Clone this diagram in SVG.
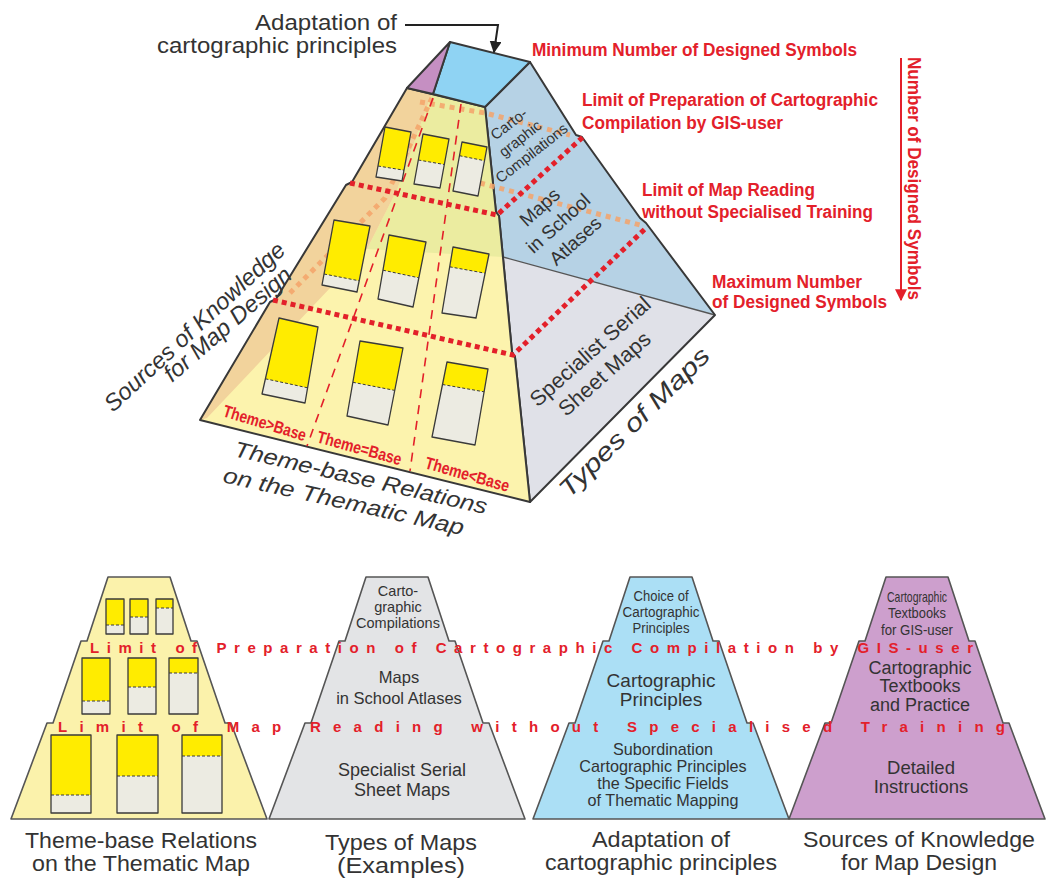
<svg xmlns="http://www.w3.org/2000/svg" width="1056" height="879" viewBox="0 0 1056 879">
<style>
.edge{stroke:#383838;stroke-width:2;stroke-linejoin:round}
.tb{stroke:#555;stroke-width:1.6;stroke-linejoin:round}
.sy{fill:#ffec00}
.sg{fill:#ecebe2}
.so{fill:none;stroke:#3a3a3a;stroke-width:1.3;stroke-linejoin:round}
.sd{stroke:#3a3a3a;stroke-width:1;stroke-dasharray:3 2}
.rdot{stroke:#e3202a;stroke-width:5;stroke-dasharray:5 4;fill:none}
.odot{stroke:#f5a36a;stroke-width:5;stroke-dasharray:5 5;fill:none;opacity:0.85}
.rdash{stroke:#e3202a;stroke-width:1.6;stroke-dasharray:9 7}
.t{font-family:"Liberation Sans",Arial,sans-serif;fill:#333}
.ti{font-family:"Liberation Sans",Arial,sans-serif;fill:#333;font-style:italic}
.r{font-family:"Liberation Sans",Arial,sans-serif;font-weight:bold;fill:#e3202a}
.ln{stroke:#222;stroke-width:2;fill:none}
</style>
<defs>
<marker id="ah" viewBox="0 0 10 10" refX="9" refY="5" markerWidth="12" markerHeight="12" markerUnits="userSpaceOnUse" orient="auto">
<path d="M0,0 L10,5 L0,10 Z" fill="#222"/>
</marker>
<marker id="ahr" viewBox="0 0 10 10" refX="9" refY="5" markerWidth="12" markerHeight="12" markerUnits="userSpaceOnUse" orient="auto">
<path d="M0,0 L10,5 L0,10 Z" fill="#e3202a"/>
</marker>
</defs>

<!-- ============ TOP 3D PYRAMID ============ -->
<g id="pyramid-3d">
  <g id="face-right">
    <polygon points="485,107 530,62 576,135 582,137 640,218 646,223 715,315 530,502 515,357 512,352 499,216 496,212" fill="#b6d2e5"/>
    <polygon points="503,257 715,315 530,502 515,357 512,352" fill="#e0e1e8"/>
    <line x1="503" y1="257" x2="715" y2="315" stroke="#555" stroke-width="1.3"/>
    <polygon points="485,107 530,62 576,135 582,137 640,218 646,223 715,315 530,502 515,357 512,352 499,216 496,212" fill="none" class="edge"/>
  </g>
  <g id="face-front">
    <polygon points="407,88 485,107 496,212 499,216 512,352 515,357 530,502 200,420 270,302 276,299 346,185 352,182" fill="#fcf3ad"/>
    <polygon points="432,93 485,107 496,212 499,216 503,257 367,249 397,190" fill="#ebeca0"/>
    <polygon points="407,88 432,93 397,190 367,249 207,418 200,420 270,302 276,299 346,185 352,182" fill="#f2d39c"/>
    <polygon points="407,88 485,107 496,212 499,216 512,352 515,357 530,502 200,420 270,302 276,299 346,185 352,182" fill="none" class="edge"/>
  </g>
  <g id="face-top">
    <polygon points="450,42 530,62 485,107 433,94" fill="#8fd3f3" class="edge"/>
    <polygon points="450,42 433,94 407,88" fill="#c58fc2" class="edge"/>
  </g>

  <g id="hidden-lines">
    <polyline class="odot" points="420,102 485,113 570,135"/>
    <polyline class="odot" points="432,98 385,198 290,293"/>
    <line class="odot" x1="480" y1="183" x2="640" y2="225"/>
  </g>

  <g id="column-dividers">
    <line class="rdash" x1="433" y1="98" x2="307" y2="446"/>
    <line class="rdash" x1="461" y1="104" x2="410" y2="471"/>
  </g>

  <g id="symbols-3d">
    <polygon class="sg" points="385,127 411,132 402,181 376,177"/>
    <polygon class="sy" points="385,127 411,132 404,170.2 378,166"/>
    <line class="sd" x1="378" y1="166" x2="404" y2="170.2"/>
    <polygon class="so" points="385,127 411,132 402,181 376,177"/>

    <polygon class="sg" points="423,134 449,139 440,188 414,184"/>
    <polygon class="sy" points="423,134 449,139 444.3,164.5 418.3,160"/>
    <line class="sd" x1="418.3" y1="160" x2="444.3" y2="164.5"/>
    <polygon class="so" points="423,134 449,139 440,188 414,184"/>

    <polygon class="sg" points="462,142 487,147 478,196 453,191"/>
    <polygon class="sy" points="462,142 487,147 484.5,160.7 459.5,155.7"/>
    <line class="sd" x1="459.5" y1="155.7" x2="484.5" y2="160.7"/>
    <polygon class="so" points="462,142 487,147 478,196 453,191"/>

    <polygon class="sg" points="334,220 370,226 357,292 322,285"/>
    <polygon class="sy" points="334,220 370,226 359.2,280.8 324,274"/>
    <line class="sd" x1="324" y1="274" x2="359.2" y2="280.8"/>
    <polygon class="so" points="334,220 370,226 357,292 322,285"/>

    <polygon class="sg" points="389,235 426,242 413,307 378,299"/>
    <polygon class="sy" points="389,235 426,242 418.9,277.8 383,270.2"/>
    <line class="sd" x1="383" y1="270.2" x2="418.9" y2="277.8"/>
    <polygon class="so" points="389,235 426,242 413,307 378,299"/>

    <polygon class="sg" points="453,247 489,254 476,318 442,313"/>
    <polygon class="sy" points="453,247 489,254 485.1,273.2 449.7,266.8"/>
    <line class="sd" x1="449.7" y1="266.8" x2="485.1" y2="273.2"/>
    <polygon class="so" points="453,247 489,254 476,318 442,313"/>

    <polygon class="sg" points="279,318 318,327 305,403 262,394"/>
    <polygon class="sy" points="279,318 318,327 307.6,387.8 265.4,378.8"/>
    <line class="sd" x1="265.4" y1="378.8" x2="307.6" y2="387.8"/>
    <polygon class="so" points="279,318 318,327 305,403 262,394"/>

    <polygon class="sg" points="360,341 403,348 388,425 347,416"/>
    <polygon class="sy" points="360,341 403,348 394.8,390.4 352.9,382.3"/>
    <line class="sd" x1="352.9" y1="382.3" x2="394.8" y2="390.4"/>
    <polygon class="so" points="360,341 403,348 388,425 347,416"/>

    <polygon class="sg" points="447,362 488,369 475,445 432,437"/>
    <polygon class="sy" points="447,362 488,369 484.1,391.8 442.5,384.5"/>
    <line class="sd" x1="442.5" y1="384.5" x2="484.1" y2="391.8"/>
    <polygon class="so" points="447,362 488,369 475,445 432,437"/>
  </g>

  <g id="limit-lines-3d">
    <polyline class="rdot" points="350,183 497,215 583,137"/>
    <polyline class="rdot" points="273,300 513,355 647,227"/>
  </g>

  <g id="face-labels">
    <text class="t" font-size="15" text-anchor="middle" transform="translate(512,128) rotate(-38)"><tspan x="0" y="0">Carto-</tspan><tspan x="0" dy="18.5">graphic</tspan><tspan x="0" dy="18.5">Compilations</tspan></text>
    <text class="t" font-size="19" text-anchor="middle" transform="translate(544,212) rotate(-42)"><tspan x="0" y="0">Maps</tspan><tspan x="3" dy="24.5">in School</tspan><tspan x="4" dy="24.5">Atlases</tspan></text>
    <text class="t" font-size="21.5" text-anchor="middle" transform="translate(595,357) rotate(-41.5)"><tspan x="0" y="0">Specialist Serial</tspan><tspan x="-4" dy="26">Sheet Maps</tspan></text>
    <text class="r" font-size="17" transform="translate(222,416) rotate(17)" textLength="86" lengthAdjust="spacingAndGlyphs">Theme&gt;Base</text>
    <text class="r" font-size="17" transform="translate(316,442) rotate(15.5)" textLength="87" lengthAdjust="spacingAndGlyphs">Theme=Base</text>
    <text class="r" font-size="17" transform="translate(424,468) rotate(16)" textLength="87" lengthAdjust="spacingAndGlyphs">Theme&lt;Base</text>
  </g>

  <g id="axis-labels-3d">
    <text class="ti" font-size="23.5" transform="translate(113,413) rotate(-42.8)" textLength="237" lengthAdjust="spacingAndGlyphs">Sources of Knowledge</text>
    <text class="ti" font-size="23.5" transform="translate(172,383) rotate(-41)" textLength="161" lengthAdjust="spacingAndGlyphs">for Map Design</text>
    <text class="ti" font-size="22" transform="translate(233,456) rotate(13)" textLength="259" lengthAdjust="spacingAndGlyphs">Theme-base Relations</text>
    <text class="ti" font-size="22" transform="translate(222,482) rotate(12.5)" textLength="246" lengthAdjust="spacingAndGlyphs">on the Thematic Map</text>
    <text class="ti" font-size="25" transform="translate(569,499) rotate(-44.8)" textLength="201" lengthAdjust="spacingAndGlyphs">Types of Maps</text>
  </g>
</g>

<g id="label-adaptation">
  <text class="t" font-size="21.5" text-anchor="end"><tspan x="397" y="30" textLength="142" lengthAdjust="spacingAndGlyphs">Adaptation of</tspan><tspan x="397" y="53" textLength="240" lengthAdjust="spacingAndGlyphs">cartographic principles</tspan></text>
</g>

<g id="labels-right">
  <text class="r" font-size="18" x="532" y="56" textLength="325" lengthAdjust="spacingAndGlyphs">Minimum Number of Designed Symbols</text>
  <text class="r" font-size="18" x="582" y="106" textLength="296" lengthAdjust="spacingAndGlyphs">Limit of Preparation of Cartographic</text>
  <text class="r" font-size="18" x="582" y="129" textLength="201" lengthAdjust="spacingAndGlyphs">Compilation by GIS-user</text>
  <text class="r" font-size="18" x="642" y="196" textLength="173" lengthAdjust="spacingAndGlyphs">Limit of Map Reading</text>
  <text class="r" font-size="18" x="642" y="218" textLength="231" lengthAdjust="spacingAndGlyphs">without Specialised Training</text>
  <text class="r" font-size="18" x="712" y="288" textLength="150" lengthAdjust="spacingAndGlyphs">Maximum Number</text>
  <text class="r" font-size="18" x="712" y="308" textLength="175" lengthAdjust="spacingAndGlyphs">of Designed Symbols</text>
  <text class="r" font-size="18" transform="translate(908,57) rotate(90)" textLength="243" lengthAdjust="spacingAndGlyphs">Number of Designed Symbols</text>
</g>

<g id="connectors">
  <polyline class="ln" points="405,25 498,25 494,52" marker-end="url(#ah)"/>
  <line x1="901" y1="58" x2="901" y2="300" stroke="#e3202a" stroke-width="2" marker-end="url(#ahr)"/>
</g>

<!-- ============ BOTTOM ROW ============ -->
<g id="node-theme-base">
  <polygon class="tb" fill="#fbf2ab" points="108,577 170,577 191,641 197,641 225,723 231,723 267,819 11,819 47,723 53,723 81,641 87,641"/>
  <g id="symbols-2d">
    <rect class="sg" x="106" y="599" width="18" height="35"/><rect class="sy" x="106" y="599" width="18" height="26"/><line class="sd" x1="106" y1="625" x2="124" y2="625"/><rect class="so" x="106" y="599" width="18" height="35"/>
    <rect class="sg" x="130" y="599" width="18" height="35"/><rect class="sy" x="130" y="599" width="18" height="18"/><line class="sd" x1="130" y1="617" x2="148" y2="617"/><rect class="so" x="130" y="599" width="18" height="35"/>
    <rect class="sg" x="156" y="599" width="17" height="35"/><rect class="sy" x="156" y="599" width="17" height="9"/><line class="sd" x1="156" y1="608" x2="173" y2="608"/><rect class="so" x="156" y="599" width="17" height="35"/>
    <rect class="sg" x="82" y="658" width="28" height="56"/><rect class="sy" x="82" y="658" width="28" height="43"/><line class="sd" x1="82" y1="701" x2="110" y2="701"/><rect class="so" x="82" y="658" width="28" height="56"/>
    <rect class="sg" x="128" y="658" width="28" height="56"/><rect class="sy" x="128" y="658" width="28" height="29"/><line class="sd" x1="128" y1="687" x2="156" y2="687"/><rect class="so" x="128" y="658" width="28" height="56"/>
    <rect class="sg" x="169" y="658" width="29" height="56"/><rect class="sy" x="169" y="658" width="29" height="15"/><line class="sd" x1="169" y1="673" x2="198" y2="673"/><rect class="so" x="169" y="658" width="29" height="56"/>
    <rect class="sg" x="51" y="735" width="40" height="78"/><rect class="sy" x="51" y="735" width="40" height="60"/><line class="sd" x1="51" y1="795" x2="91" y2="795"/><rect class="so" x="51" y="735" width="40" height="78"/>
    <rect class="sg" x="117" y="735" width="41" height="78"/><rect class="sy" x="117" y="735" width="41" height="41"/><line class="sd" x1="117" y1="776" x2="158" y2="776"/><rect class="so" x="117" y="735" width="41" height="78"/>
    <rect class="sg" x="182" y="735" width="40" height="78"/><rect class="sy" x="182" y="735" width="40" height="21"/><line class="sd" x1="182" y1="756" x2="222" y2="756"/><rect class="so" x="182" y="735" width="40" height="78"/>
  </g>
  <text class="t" font-size="21.5" text-anchor="middle"><tspan x="141" y="848" textLength="232" lengthAdjust="spacingAndGlyphs">Theme-base Relations</tspan><tspan x="141" y="871" textLength="218" lengthAdjust="spacingAndGlyphs">on the Thematic Map</tspan></text>
</g>

<g id="node-types-of-maps">
  <polygon class="tb" fill="#e3e4e6" points="366,577 428,577 449,641 455,641 483,723 489,723 525,819 269,819 305,723 311,723 339,641 345,641"/>
  <text class="t" font-size="14.5" text-anchor="middle"><tspan x="398" y="596">Carto-</tspan><tspan x="398" y="612">graphic</tspan><tspan x="398" y="628">Compilations</tspan></text>
  <text class="t" font-size="16.5" text-anchor="middle"><tspan x="399" y="683">Maps</tspan><tspan x="399" y="704">in School Atlases</tspan></text>
  <text class="t" font-size="18" text-anchor="middle"><tspan x="402" y="776">Specialist Serial</tspan><tspan x="402" y="796">Sheet Maps</tspan></text>
  <text class="t" font-size="21.5" text-anchor="middle"><tspan x="401" y="850" textLength="152" lengthAdjust="spacingAndGlyphs">Types of Maps</tspan><tspan x="401" y="873" textLength="128" lengthAdjust="spacingAndGlyphs">(Examples)</tspan></text>
</g>

<g id="node-adaptation">
  <polygon class="tb" fill="#abdff5" points="630,577 692,577 713,641 719,641 747,723 753,723 789,819 533,819 569,723 575,723 603,641 609,641"/>
  <text class="t" font-size="15.5" text-anchor="middle"><tspan x="661" y="601" textLength="55" lengthAdjust="spacingAndGlyphs">Choice of</tspan><tspan x="661" y="617" textLength="77" lengthAdjust="spacingAndGlyphs">Cartographic</tspan><tspan x="661" y="633" textLength="57" lengthAdjust="spacingAndGlyphs">Principles</tspan></text>
  <text class="t" font-size="19" text-anchor="middle"><tspan x="661" y="687">Cartographic</tspan><tspan x="661" y="706">Principles</tspan></text>
  <text class="t" font-size="16.2" text-anchor="middle"><tspan x="663" y="755">Subordination</tspan><tspan x="663" y="772">Cartographic Principles</tspan><tspan x="663" y="789">the Specific Fields</tspan><tspan x="663" y="806">of Thematic Mapping</tspan></text>
  <text class="t" font-size="21.5" text-anchor="middle"><tspan x="661" y="847" textLength="138" lengthAdjust="spacingAndGlyphs">Adaptation of</tspan><tspan x="661" y="870" textLength="232" lengthAdjust="spacingAndGlyphs">cartographic principles</tspan></text>
</g>

<g id="node-sources">
  <polygon class="tb" fill="#cd9fcd" points="886,577 948,577 969,641 975,641 1003,723 1009,723 1045,819 789,819 825,723 831,723 859,641 865,641"/>
  <text class="t" font-size="14.5" text-anchor="middle"><tspan x="917" y="602" textLength="60" lengthAdjust="spacingAndGlyphs">Cartographic</tspan><tspan x="917" y="618" textLength="58" lengthAdjust="spacingAndGlyphs">Textbooks</tspan><tspan x="917" y="635" textLength="72" lengthAdjust="spacingAndGlyphs">for GIS-user</tspan></text>
  <text class="t" font-size="18" text-anchor="middle"><tspan x="920" y="674">Cartographic</tspan><tspan x="920" y="692">Textbooks</tspan><tspan x="920" y="711">and Practice</tspan></text>
  <text class="t" font-size="18.5" text-anchor="middle"><tspan x="921" y="774">Detailed</tspan><tspan x="921" y="793">Instructions</tspan></text>
  <text class="t" font-size="21.5" text-anchor="middle"><tspan x="919" y="847" textLength="232" lengthAdjust="spacingAndGlyphs">Sources of Knowledge</tspan><tspan x="919" y="870" textLength="156" lengthAdjust="spacingAndGlyphs">for Map Design</tspan></text>
</g>

<g id="limit-labels-bottom">
  <text class="r" font-size="15" x="90" y="653" textLength="883" lengthAdjust="spacing">Limit of Preparation of Cartographic Compilation by GIS-user</text>
  <text class="r" font-size="15" x="58" y="732" textLength="947" lengthAdjust="spacing">Limit of Map Reading without Specialised Training</text>
</g>
</svg>
